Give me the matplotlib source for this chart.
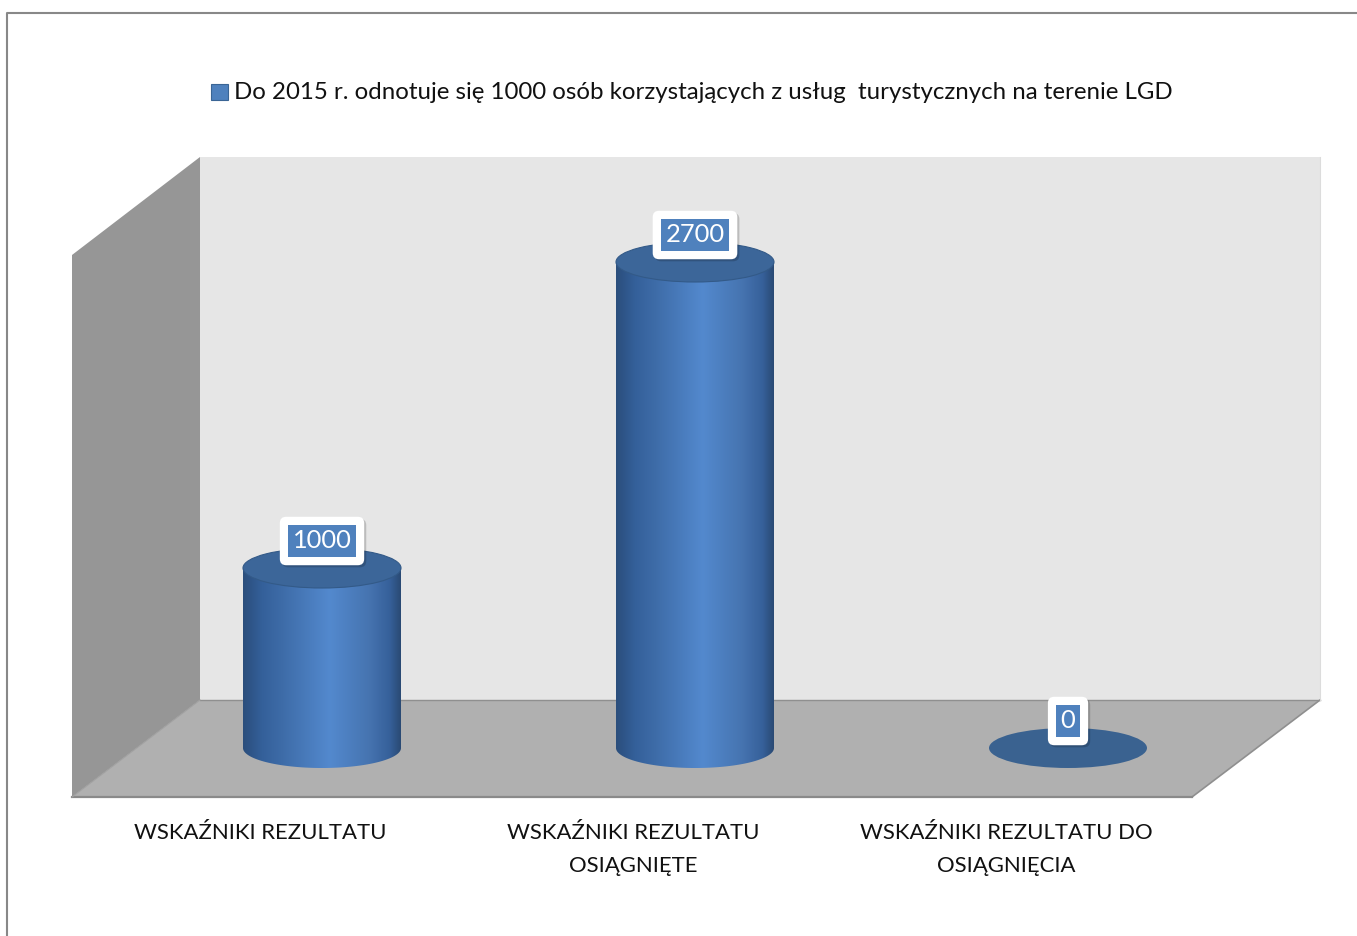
import numpy as np
import matplotlib
matplotlib.use("Agg")
import matplotlib.pyplot as plt
from matplotlib.patches import Polygon, Ellipse, Rectangle
from matplotlib.colors import LinearSegmentedColormap

# ---------------- data ----------------
categories = ["WSKAŹNIKI REZULTATU",
              "WSKAŹNIKI REZULTATU\nOSIĄGNIĘTE",
              "WSKAŹNIKI REZULTATU DO\nOSIĄGNIĘCIA"]
values = [1000, 2700, 0]
series_name = "Do 2015 r. odnotuje się 1000 osób korzystających z usług  turystycznych na terenie LGD"

# ---------------- layout (pixels) ----------------
W, H = 1357, 936
X0, DX = 322, 373        # pixel x of first category, spacing
Y0, S = 748, 0.18        # pixel y of value 0, pixels per unit
FONT = "Lato"

fig = plt.figure(figsize=(W / 100, H / 100), dpi=100)
fig.patch.set_facecolor("white")

bg = fig.add_axes([0, 0, 1, 1])
bg.set_xlim(0, W)
bg.set_ylim(H, 0)
bg.axis("off")

# chart border
bg.plot([7, 7, W + 5], [H + 5, 13, 13], color="#888888", lw=1.5, solid_capstyle="butt")

# 3D walls
bg.add_patch(Polygon([(200, 157), (1320, 157), (1320, 700), (200, 700)],
                     closed=True, fc="#e6e6e6", ec="none", zorder=1))
bg.add_patch(Polygon([(72, 255), (200, 157), (200, 700), (72, 797)],
                     closed=True, fc="#969696", ec="none", zorder=1))
bg.add_patch(Polygon([(72, 797), (200, 700), (1320, 700), (1192, 797)],
                     closed=True, fc="#b0b0b0", ec="none", zorder=1))
bg.plot([200, 1320], [700, 700], color="#8f8f8f", lw=1, zorder=2)
bg.plot([1320, 1192], [700, 797], color="#8f8f8f", lw=1.2, zorder=2)
bg.plot([72, 1192], [797, 797], color="#8a8a8a", lw=1.6, zorder=2)
bg.plot([72, 200], [797, 700], color="#a0a0a0", lw=0.8, zorder=2)
bg.plot([1320, 1320], [157, 700], color="#dcdcdc", lw=0.8, zorder=2)

# legend
leg_txt = bg.text(234, 99, series_name, fontsize=16, family=FONT,
                  color="#111111", va="baseline", ha="left")
probe = bg.text(0, 0, categories[0], fontsize=16, family=FONT)
fig.canvas.draw()
fs = 16 * 941 / leg_txt.get_window_extent().width
fs_cat = 16 * 253 / probe.get_window_extent().width
probe.remove()
leg_txt.set_fontsize(fs)
bg.add_patch(Rectangle((211, 84), 17, 16, fc="#4f81bd", ec="#3a6595", lw=0.8))

# ---------------- data axes ----------------
ax = fig.add_axes([0, 0, 1, 1])
ax.patch.set_alpha(0)
ax.axis("off")
xlim = ((0 - X0) / DX, (W - X0) / DX)
ylim = ((Y0 - H) / S, Y0 / S)

rx = 79 / DX          # cylinder radius (category units)
ry = 20 / S           # ellipse half height (value units)

cmap = LinearSegmentedColormap.from_list(
    "cyl", [(0.0, "#2b4e7c"), (0.12, "#34609a"), (0.25, "#3e6ca8"),
            (0.55, "#5389ce"), (0.8, "#4674b0"), (0.93, "#36609a"), (1.0, "#2a4a74")])
grad = np.linspace(0, 1, 256).reshape(1, -1)

fs_lab = fs * 1.06
for i, v in enumerate(values):
    c = i
    l, r = c - rx, c + rx
    if v > 0:
        th = np.linspace(0, np.pi, 100)
        arc = np.column_stack([c + rx * np.cos(th), -ry * np.sin(th)])
        pts = np.vstack([[[l, 0], [l, v], [r, v], [r, 0]], arc])
        clip = Polygon(pts, closed=True, fc="none", ec="none", transform=ax.transData)
        ax.add_patch(clip)
        im = ax.imshow(grad, extent=[l, r, -ry, v], aspect="auto", cmap=cmap,
                       interpolation="bilinear", zorder=3)
        im.set_clip_path(clip)
        ax.add_patch(Ellipse((c, v), 2 * rx, 2 * ry, fc="#3c6699", ec="#335a88",
                             lw=0.8, zorder=4))
    else:
        ax.add_patch(Ellipse((c, v), 2 * rx, 2 * ry, fc="#3a6290", ec="none", zorder=4))

    # data label: shadow, white rounded box, blue inner box
    off = 27 * 0.72
    ax.annotate(str(v), xy=(c, v), xytext=(1.5, off - 1.5), textcoords="offset points",
                ha="center", va="center", fontsize=fs_lab, family=FONT, color=(0, 0, 0, 0),
                bbox=dict(boxstyle="round,pad=0.5,rounding_size=0.25",
                          fc=(0, 0, 0, 0.18), ec="none"), zorder=5)
    ax.annotate(str(v), xy=(c, v), xytext=(0, off), textcoords="offset points",
                ha="center", va="center", fontsize=fs_lab, family=FONT, color="white",
                bbox=dict(boxstyle="round,pad=0.5,rounding_size=0.25",
                          fc="white", ec="none"), zorder=6)
    ax.annotate(str(v), xy=(c, v), xytext=(0, off), textcoords="offset points",
                ha="center", va="center", fontsize=fs_lab, family=FONT, color="white",
                bbox=dict(boxstyle="square,pad=0.18", fc="#4f81bd", ec="none"), zorder=7)

# category labels (front edge of the floor)
lab_dx = -62 / DX
for i, cat in enumerate(categories):
    for j, line in enumerate(cat.split("\n")):
        ypix = 839 + 33 * j
        ax.text(i + lab_dx, (Y0 - ypix) / S, line, ha="center", va="baseline",
                fontsize=fs_cat, family=FONT, color="#111111", zorder=8)

ax.set_xlim(*xlim)
ax.set_ylim(*ylim)

fig.savefig("out.png", dpi=100)
